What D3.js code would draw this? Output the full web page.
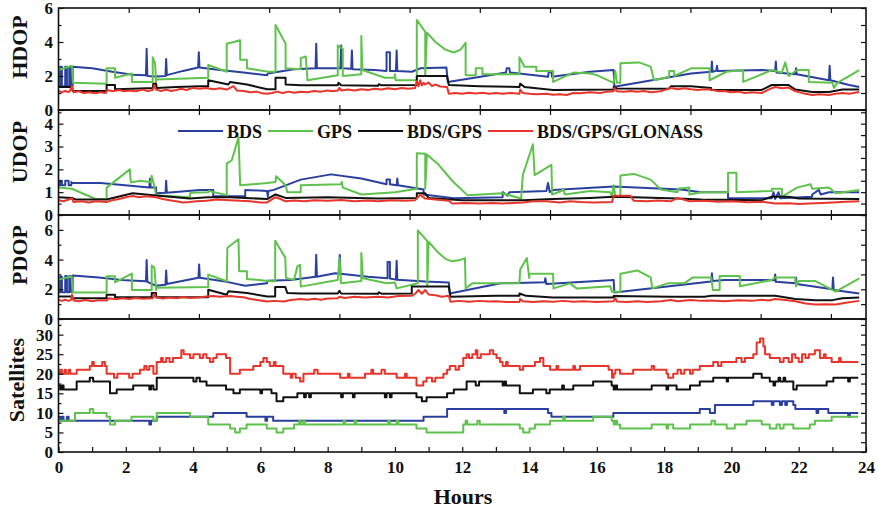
<!DOCTYPE html>
<html>
<head>
<meta charset="utf-8">
<script src="https://cdn.jsdelivr.net/npm/d3@7"></script>
<style>
  body { margin: 0; background: #fff; }
  text { font-family: "Liberation Serif", "Times New Roman", serif; font-weight: bold; }
</style>
</head>
<body>
<script>
// series names and colours
var names = ["BDS", "GPS", "BDS/GPS", "BDS/GPS/GLONASS"];
var colors = ["#2b3f9e", "#5fc24c", "#111111", "#e8352b"];

// x tick labels of the bottom panel
var hourLabels = [0, 2, 4, 6, 8, 10, 12, 14, 16, 18, 20, 22, 24];

// ---- HDOP [hour, value] ----
var hdopBDS = [[0,1.4],[0.05,1.4],[0.05,2.55],[0.1,2.55],[0.1,1.4],[0.2,1.4],[0.2,2.55],[0.25,2.55],[0.25,1.4],[0.32,1.4],[0.32,2.55],[0.38,2.55],[0.38,1.4],[0.42,1.4],[0.42,2.55],
  [1.0,2.45],[1.6,2.25],[2.2,2.08],[2.6,2.05],[2.62,3.6],[2.64,2.0],[2.9,1.97],[3.18,2.0],[3.2,3.0],[3.22,2.05],[3.7,2.3],[4.15,2.5],[4.17,3.4],[4.19,2.5],
  [4.8,2.35],[5.5,2.2],[6.2,2.05],[6.22,2.15],[7.0,2.4],[7.64,2.45],[7.66,3.9],[7.68,2.45],[8.38,2.45],[8.4,3.8],[8.42,2.45],[8.7,2.42],[8.72,3.5],[8.74,2.4],
  [9.4,2.35],[9.75,2.3],[9.75,3.4],[9.85,3.4],[9.85,2.3],[10.03,2.3],[10.05,3.5],[10.07,2.3],[10.5,2.25],[10.75,2.45],[11.53,2.5],[11.57,1.65],[12.45,1.93],
  [13.3,2.2],[13.32,2.45],[13.4,2.45],[13.42,2.2],[14.55,1.95],[14.57,2.25],[14.65,2.25],[14.67,1.95],[15.8,2.25],[16.5,2.35],[16.52,1.37],[18.8,2.15],
  [19.4,2.25],[19.42,2.85],[19.44,2.25],[19.55,2.3],[19.57,2.6],[19.59,2.3],[20.9,2.35],[21.3,2.3],[21.32,2.85],[21.34,2.2],[21.9,2.1],[21.92,2.45],[21.94,2.1],
  [22.5,1.9],[22.9,1.75],[22.92,2.6],[22.94,1.75],[23.5,1.47],[23.8,1.35]];
var hdopGPS = [[0,2.35],[0.4,2.6],[0.43,1.6],[1.43,1.55],[1.43,2.45],[1.68,2.45],[1.68,1.9],[2.18,2.15],[2.18,1.65],[2.8,1.65],[2.8,3.1],[2.87,2.75],[2.9,1.65],
  [2.9,1.8],[4.45,1.9],[4.45,2.65],[5.0,2.25],[5.0,3.9],[5.4,4.1],[5.4,2.95],[5.6,2.95],[5.6,2.45],[6.25,2.25],[6.45,2.25],[6.45,5.0],[6.75,3.9],[6.75,2.45],
  [7.2,2.4],[7.2,3.05],[7.35,3.15],[7.4,1.75],[8.3,2.05],[8.3,3.8],[8.45,3.6],[8.45,2.0],[9.0,2.1],[9.0,4.35],[9.03,2.35],[9.7,1.9],[10.0,1.9],[10.0,2.1],
  [10.02,1.75],[10.65,1.75],[10.65,5.3],[10.9,4.6],[10.9,2.0],[10.95,4.55],[11.2,4.0],[11.5,3.55],[11.75,3.38],[11.95,3.55],[12.1,3.95],[12.1,2.05],[12.4,2.05],
  [12.4,2.45],[12.6,2.45],[12.6,2.1],[13.7,2.1],[13.7,3.1],[13.85,2.55],[14.2,2.55],[14.2,2.3],[14.7,2.3],[14.7,1.65],[15.3,2.2],[15.8,2.15],[16.0,2.05],
  [16.5,1.6],[16.55,2.3],[16.6,1.6],[16.7,1.6],[16.7,2.75],[17.25,2.8],[17.6,2.55],[17.7,1.75],[18.15,1.95],[18.15,2.3],[18.3,2.3],[18.3,2.0],[18.8,2.45],
  [19.35,2.45],[19.35,1.75],[19.85,2.25],[20.35,2.35],[20.35,1.65],[21.2,2.35],[21.5,2.2],[21.6,2.8],[21.7,2.0],[21.95,2.35],[22.3,2.35],[22.3,1.65],[23.0,1.6],
  [23.05,1.3],[23.15,1.6],[23.8,2.35]];
var hdopBG = [[0,1.35],[0.4,1.35],[0.42,1.12],[1.43,1.12],[1.43,1.47],[1.68,1.47],[1.68,1.22],[2.2,1.25],[2.8,1.3],[2.82,1.55],[2.9,1.55],[2.92,1.3],[3.5,1.35],
  [4.2,1.4],[4.45,1.4],[4.45,1.75],[5.05,1.5],[5.1,1.65],[5.6,1.5],[6.2,1.22],[6.45,1.22],[6.45,1.9],[6.75,1.9],[6.75,1.5],[7.2,1.45],[8.3,1.45],[8.32,1.6],
  [8.4,1.45],[9.5,1.42],[9.52,1.52],[9.6,1.45],[10.65,1.47],[10.65,2.0],[11.55,2.0],[11.6,1.47],[12.5,1.4],[13.7,1.35],[13.72,1.55],[13.85,1.35],[14.7,1.18],
  [16.5,1.2],[16.5,1.35],[16.6,1.27],[18.15,1.25],[18.2,1.4],[18.8,1.4],[19.4,1.3],[19.4,1.18],[20.9,1.18],[21.2,1.47],[21.7,1.47],[21.9,1.2],[22.4,1.06],
  [22.9,1.06],[23.3,1.2],[23.8,1.2]];
var hdopBGG = [[0,1.12],[0.1,1.05],[0.2,1.12],[0.3,1.05],[0.35,1.15],[0.4,1.4],[0.45,1.05],[0.6,1.1],[0.75,1.0],[0.9,1.05],[1.1,0.98],[1.25,1.05],[1.4,1.0],
  [1.45,1.18],[1.6,1.1],[1.8,1.18],[1.95,1.1],[2.1,1.15],[2.3,1.1],[2.5,1.2],[2.65,1.12],[2.8,1.18],[2.85,1.45],[2.9,1.2],[3.05,1.12],[3.2,1.2],[3.35,1.12],
  [3.5,1.18],[3.65,1.25],[3.8,1.18],[4.0,1.3],[4.2,1.25],[4.4,1.3],[4.6,1.22],[4.8,1.28],[5.0,1.2],[5.2,1.4],[5.3,1.15],[5.5,1.12],[5.7,1.05],[5.9,1.08],
  [6.05,0.98],[6.2,0.95],[6.35,1.0],[6.5,1.08],[6.65,1.0],[6.85,1.08],[7.0,1.02],[7.2,1.08],[7.4,1.05],[7.6,1.12],[7.8,1.08],[8.0,1.15],[8.15,1.1],[8.3,1.15],
  [8.35,1.3],[8.4,1.15],[8.6,1.2],[8.8,1.15],[9.0,1.22],[9.2,1.18],[9.4,1.25],[9.6,1.2],[9.8,1.28],[10.0,1.22],[10.2,1.3],[10.4,1.25],[10.6,1.3],[10.65,1.7],
  [10.7,1.4],[10.75,1.75],[10.8,1.45],[10.85,1.6],[10.9,1.5],[11.0,1.62],[11.1,1.4],[11.2,1.5],[11.35,1.38],[11.55,1.35],[11.6,0.95],[11.8,1.0],[12.0,0.95],
  [12.2,1.02],[12.4,0.97],[12.6,1.02],[12.8,0.95],[13.0,1.0],[13.2,0.95],[13.45,1.0],[13.7,0.95],[13.72,1.2],[13.8,1.0],[14.0,0.95],[14.2,0.92],[14.5,0.95],
  [14.7,0.9],[14.9,0.92],[15.1,0.88],[15.3,1.0],[15.5,0.98],[15.8,1.05],[16.1,1.0],[16.3,1.08],[16.5,1.1],[16.52,1.3],[16.6,1.1],[16.8,1.08],[17.0,1.12],
  [17.2,1.08],[17.4,1.12],[17.6,1.05],[17.9,1.1],[18.2,1.3],[18.4,1.22],[18.6,1.28],[18.8,1.22],[19.0,1.18],[19.2,1.22],[19.4,1.2],[19.6,1.1],[19.8,1.12],
  [20.0,1.05],[20.2,1.08],[20.4,1.0],[20.6,1.05],[20.9,1.0],[21.1,1.2],[21.3,1.35],[21.5,1.28],[21.7,1.32],[21.85,1.15],[22.0,1.05],[22.2,0.95],[22.4,0.88],
  [22.6,0.92],[22.9,0.88],[23.1,0.95],[23.3,1.0],[23.5,0.95],[23.8,1.06]];

// ---- UDOP ----
var udopBDS = [[0,1.3],[0.05,1.3],[0.05,1.5],[0.1,1.5],[0.1,1.3],[0.2,1.3],[0.2,1.5],[0.3,1.5],[0.3,1.3],[0.38,1.3],[0.38,1.45],[0.4,1.4],[1.25,1.4],[2.7,1.2],
  [2.72,1.6],[2.74,1.2],[2.9,1.2],[2.9,0.95],[3.18,0.97],[3.2,1.5],[3.22,0.97],[4.2,1.1],[4.6,1.1],[4.6,0.82],[5.55,0.82],[5.55,1.1],[6.2,1.05],[6.22,0.8],
  [6.24,1.05],[6.4,1.1],[7.2,1.55],[8.1,1.78],[9.0,1.6],[9.75,1.35],[9.75,1.55],[9.85,1.55],[9.85,1.35],[10.05,1.3],[10.07,1.6],[10.09,1.3],[10.85,1.12],
  [10.85,0.9],[11.75,0.73],[13.2,0.78],[13.2,1.0],[13.35,0.85],[13.4,1.0],[14.5,1.05],[14.55,1.4],[14.6,1.0],[14.7,1.1],[16.5,1.25],[18.5,1.12],[19.1,1.0],
  [19.9,1.0],[19.9,0.73],[21.2,0.73],[21.25,1.0],[21.3,0.7],[21.4,1.0],[21.45,0.73],[22.4,0.8],[22.4,0.9],[22.6,1.1],[22.65,0.9],[22.9,1.0],[23.8,1.0]];
var udopGPS = [[0,1.2],[0.4,1.15],[1.1,0.7],[1.43,0.7],[1.43,1.2],[2.12,2.0],[2.15,1.43],[2.45,1.5],[2.75,1.43],[2.77,1.72],[2.85,1.25],[2.9,0.87],[3.9,0.78],
  [3.92,0.97],[4.45,1.0],[4.47,1.05],[5.0,0.87],[5.0,2.25],[5.15,2.4],[5.35,3.4],[5.4,1.3],[6.2,1.4],[6.45,1.45],[6.47,1.7],[6.75,1.3],[6.8,1.0],[7.2,1.0],
  [7.2,1.3],[8.4,1.35],[8.42,1.45],[8.45,1.2],[9.0,0.9],[10.0,1.0],[10.65,1.15],[10.65,2.7],[10.9,2.68],[10.9,1.15],[10.95,2.65],[11.3,2.2],[11.7,1.5],
  [12.15,0.87],[13.2,0.95],[13.75,0.72],[13.8,1.75],[14.1,3.1],[14.15,1.75],[14.65,2.2],[14.67,0.9],[14.95,1.05],[15.0,1.15],[15.05,0.9],[15.8,1.05],[16.4,1.0],
  [16.45,0.8],[16.5,1.3],[16.55,0.8],[16.7,0.8],[16.7,1.73],[17.1,1.8],[17.6,1.55],[17.9,1.12],[18.4,1.0],[18.4,1.15],[18.75,1.2],[18.75,0.9],[19.1,1.0],
  [19.9,1.0],[19.9,1.85],[20.15,1.85],[20.15,1.0],[21.2,1.05],[21.2,1.15],[21.5,1.15],[21.5,0.8],[21.95,1.2],[22.35,1.35],[22.4,1.15],[22.9,1.2],[23.1,0.95],
  [23.8,1.1]];
var udopBG = [[0,0.78],[0.4,0.75],[0.5,0.68],[1.43,0.68],[2.2,0.95],[2.9,0.85],[3.9,0.72],[4.45,0.78],[5.1,0.78],[6.2,0.7],[6.45,0.9],[6.75,0.75],[8.0,0.78],
  [9.5,0.72],[10.65,0.75],[10.65,0.95],[10.9,0.95],[11.0,0.75],[12.0,0.65],[13.8,0.65],[14.7,0.7],[15.8,0.75],[16.5,0.8],[17.1,0.78],[18.4,0.72],[19.1,0.68],
  [20.9,0.65],[21.2,0.8],[21.7,0.8],[22.0,0.72],[23.8,0.7]];
var udopBGG = [[0,0.65],[0.15,0.6],[0.3,0.68],[0.4,0.72],[0.45,0.57],[0.7,0.6],[0.9,0.55],[1.1,0.6],[1.43,0.57],[1.6,0.65],[1.8,0.7],[2.0,0.78],[2.2,0.83],
  [2.4,0.78],[2.6,0.82],[2.9,0.78],[3.1,0.7],[3.3,0.65],[3.5,0.6],[3.7,0.55],[3.9,0.57],[4.1,0.6],[4.4,0.62],[4.7,0.68],[5.1,0.65],[5.4,0.62],[5.7,0.6],
  [6.0,0.55],[6.2,0.55],[6.45,0.78],[6.6,0.7],[6.75,0.6],[7.0,0.63],[7.3,0.6],[7.6,0.65],[8.0,0.62],[8.4,0.66],[8.8,0.6],[9.2,0.63],[9.5,0.6],[9.9,0.65],
  [10.3,0.62],[10.6,0.65],[10.75,0.88],[10.9,0.72],[11.2,0.68],[11.6,0.62],[11.7,0.5],[12.1,0.53],[12.5,0.5],[12.9,0.53],[13.2,0.5],[13.5,0.53],[13.8,0.55],
  [14.1,0.6],[14.5,0.6],[14.9,0.55],[15.2,0.6],[15.5,0.57],[15.9,0.55],[16.45,0.57],[16.5,0.84],[17.0,0.84],[17.1,0.62],[17.5,0.6],[17.8,0.63],[18.2,0.6],
  [18.4,0.75],[18.75,0.6],[19.2,0.62],[19.6,0.58],[20.0,0.6],[20.5,0.56],[20.9,0.58],[21.3,0.5],[21.7,0.52],[22.0,0.48],[22.3,0.5],[22.7,0.53],[23.0,0.55],
  [23.4,0.58],[23.8,0.6]];

// ---- PDOP ----
var pdopBDS = [[0,1.8],[0.05,1.8],[0.05,2.85],[0.1,2.85],[0.1,1.8],[0.2,1.8],[0.2,2.9],[0.25,2.9],[0.25,1.8],[0.32,1.8],[0.32,2.9],[0.38,2.9],[0.38,1.8],
  [0.42,1.8],[0.42,2.92],[1.2,2.8],[2.0,2.6],[2.6,2.54],[2.62,3.97],[2.64,2.5],[2.9,2.24],[3.18,2.3],[3.2,3.27],[3.22,2.35],[4.16,2.77],[4.18,3.67],[4.2,2.77],
  [5.0,2.5],[5.55,2.24],[6.2,2.4],[6.2,2.58],[6.9,2.63],[7.64,2.85],[7.66,4.33],[7.68,2.85],[8.22,3.08],[8.34,3.05],[8.36,4.3],[8.38,3.05],[9.2,2.85],
  [9.78,2.74],[9.78,3.83],[9.85,3.83],[9.85,2.72],[10.03,2.65],[10.05,3.92],[10.07,2.65],[10.9,2.52],[11.6,2.45],[11.63,1.72],[13.14,2.4],[14.45,2.47],
  [14.47,2.75],[14.5,2.35],[16.5,2.63],[16.52,1.79],[19.4,2.52],[19.42,3.08],[19.44,2.55],[19.8,2.63],[20.9,2.63],[21.28,2.6],[21.3,3.0],[21.32,2.5],
  [21.9,2.4],[21.92,2.8],[21.94,2.35],[23.0,2.0],[23.02,2.8],[23.04,1.95],[23.8,1.72]];
var pdopGPS = [[0,2.65],[0.39,2.88],[0.42,1.79],[1.43,1.79],[1.43,2.88],[1.68,2.88],[1.68,2.47],[2.18,3.06],[2.18,1.95],[2.77,1.95],[2.77,3.6],[2.85,3.45],
  [2.9,1.95],[2.9,2.11],[4.45,2.15],[4.45,2.99],[5.0,2.54],[5.02,4.8],[5.35,5.37],[5.37,3.22],[5.6,3.22],[5.6,2.7],[6.3,2.54],[6.44,2.54],[6.44,5.26],[6.74,4.13],
  [6.76,2.77],[7.0,2.63],[7.1,3.54],[7.18,3.65],[7.2,2.18],[8.3,2.63],[8.35,4.1],[8.4,2.4],[9.0,2.55],[9.0,4.44],[9.05,2.74],[9.75,2.4],[10.0,2.45],[10.05,2.06],
  [10.68,2.4],[10.68,5.96],[10.96,5.24],[10.96,2.2],[11.0,5.2],[11.25,4.55],[11.5,4.05],[11.69,3.88],[11.9,3.95],[12.08,4.1],[12.1,2.06],[12.3,2.4],[13.7,2.4],
  [13.72,3.31],[13.92,4.1],[13.99,2.76],[14.0,3.04],[14.7,3.04],[14.71,2.06],[15.2,2.4],[15.4,2.06],[16.4,2.2],[16.45,1.84],[16.7,1.84],[16.7,3.04],[17.2,3.27],
  [17.6,2.8],[17.65,2.06],[18.1,2.4],[18.6,2.4],[18.85,2.8],[19.4,2.8],[19.45,1.95],[19.65,1.95],[19.65,2.9],[20.25,2.9],[20.25,2.2],[21.2,2.63],[21.3,2.8],
  [21.9,2.8],[21.92,2.2],[22.0,2.55],[22.5,2.55],[23.1,1.84],[23.8,2.74]];
var pdopBG = [[0,1.52],[0.4,1.52],[0.42,1.4],[1.43,1.4],[1.43,1.63],[1.68,1.63],[1.68,1.47],[2.77,1.47],[2.77,1.75],[2.9,1.75],[2.9,1.47],[4.45,1.47],
  [4.45,1.97],[5.0,1.63],[5.05,1.86],[5.6,1.75],[6.2,1.52],[6.44,1.52],[6.44,2.16],[6.74,2.16],[6.8,1.75],[7.2,1.72],[8.3,1.72],[8.35,1.9],[8.4,1.72],
  [9.5,1.7],[9.52,1.8],[9.6,1.7],[10.5,1.72],[10.5,2.18],[11.6,2.18],[11.65,1.5],[13.0,1.56],[13.7,1.56],[13.7,1.72],[13.9,1.56],[14.7,1.45],[16.5,1.45],
  [16.5,1.55],[18.2,1.5],[19.2,1.5],[19.4,1.56],[21.3,1.56],[21.9,1.35],[22.5,1.27],[23.0,1.27],[23.3,1.4],[23.8,1.45]];
var pdopBGG = [[0,1.29],[0.1,1.22],[0.2,1.3],[0.3,1.22],[0.38,1.3],[0.4,1.63],[0.45,1.25],[0.6,1.2],[0.8,1.28],[1.0,1.2],[1.2,1.27],[1.43,1.25],[1.5,1.4],
  [1.7,1.33],[1.9,1.4],[2.1,1.35],[2.3,1.42],[2.5,1.36],[2.8,1.4],[2.85,1.68],[2.9,1.45],[3.1,1.38],[3.3,1.45],[3.5,1.4],[3.7,1.48],[3.9,1.42],[4.2,1.47],
  [4.4,1.52],[4.6,1.55],[4.8,1.5],[5.1,1.55],[5.3,1.5],[5.5,1.47],[5.7,1.35],[5.9,1.28],[6.2,1.18],[6.4,1.22],[6.7,1.18],[6.9,1.28],[7.2,1.34],[7.4,1.3],
  [7.6,1.36],[7.8,1.3],[8.0,1.38],[8.3,1.4],[8.35,1.5],[8.5,1.42],[8.8,1.5],[9.1,1.45],[9.5,1.5],[9.8,1.45],[10.1,1.55],[10.5,1.56],[10.6,1.7],[10.7,1.95],
  [10.8,1.7],[10.9,1.95],[11.0,1.65],[11.2,1.6],[11.4,1.5],[11.6,1.56],[11.65,1.16],[11.9,1.22],[12.2,1.16],[12.5,1.22],[12.8,1.18],[13.0,1.2],[13.3,1.15],
  [13.7,1.15],[13.72,1.35],[13.8,1.2],[14.1,1.15],[14.4,1.2],[14.7,1.16],[15.0,1.22],[15.3,1.16],[15.6,1.2],[16.0,1.15],[16.5,1.2],[16.55,1.4],[16.6,1.18],
  [16.9,1.15],[17.2,1.2],[17.5,1.15],[17.9,1.2],[18.2,1.28],[18.4,1.2],[18.8,1.28],[19.1,1.22],[19.4,1.25],[19.8,1.2],[20.2,1.26],[20.6,1.22],[20.9,1.3],
  [21.1,1.25],[21.3,1.35],[21.6,1.28],[21.9,1.2],[22.2,1.05],[22.5,0.97],[22.8,1.0],[23.1,0.97],[23.4,1.1],[23.8,1.22]];

// ---- Satellites (step, [hour, count]) ----
var satBDS = [[0,9],[0.05,8],[0.1,9],[0.15,8],[0.25,9],[0.3,8],[2.7,7],[2.75,8],[2.92,9],[4.6,10],[5.59,9],[6.15,8],[6.2,9],[6.38,8],[10.85,9],[11.55,11],
  [13.25,10],[13.3,11],[14.55,10],[14.65,9],[16.49,10],[19.06,11],[19.36,10],[19.51,12],[20.65,13],[21.2,12],[21.25,13],[21.44,12],[21.5,13],[21.6,12],
  [21.65,13],[21.84,12],[21.9,11],[22.53,10],[22.58,11],[22.88,10],[23.47,9],[23.52,10],[23.77,10]];
var satGPS = [[0,8],[0.49,10],[0.93,11],[1.03,10],[1.43,9],[1.53,7],[1.68,8],[2.17,9],[2.82,8],[2.92,10],[3.91,9],[4.45,7],[5.1,6],[5.25,5],[5.39,6],[5.59,7],
  [6.19,6],[6.48,5],[6.68,6],[7.0,7],[7.15,8],[7.2,7],[7.28,8],[7.32,7],[8.47,8],[8.52,7],[8.8,8],[8.85,7],[9.8,8],[9.85,7],[10.05,8],[10.1,7],[10.64,6],
  [10.94,5],[12.03,7],[12.1,8],[12.15,7],[12.45,8],[12.52,7],[13.71,6],[13.81,5],[14.0,6],[14.16,7],[14.61,8],[15.0,9],[15.05,8],[15.89,9],[16.44,8],[16.5,7],
  [16.55,8],[16.6,7],[16.69,6],[17.63,7],[18.07,6],[18.12,7],[18.27,6],[18.77,7],[19.41,8],[19.51,7],[19.86,6],[20.1,7],[20.45,8],[20.9,7],[21.14,6],[21.34,7],
  [21.44,6],[21.55,7],[21.84,6],[22.33,7],[22.48,8],[22.98,9],[23.77,9]];
var satBG = [[0,17],[0.05,16],[0.1,17],[0.15,16],[0.54,18],[0.93,19],[1.03,18],[1.53,15],[1.73,16],[2.22,17],[2.7,16],[2.75,17],[2.82,16],[2.92,19],[4.01,18],
  [4.1,19],[4.2,18],[4.4,17],[4.98,16],[5.2,15],[5.39,16],[6.0,15],[6.05,16],[6.33,15],[6.48,13],[6.68,14],[7.1,15],[7.3,14],[7.35,15],[7.45,14],[7.5,15],
  [8.4,14],[8.45,15],[8.75,14],[8.8,15],[9.7,14],[9.75,15],[9.85,14],[9.9,15],[10.64,14],[10.8,13],[10.94,14],[11.55,15],[11.75,16],[12.13,18],[12.4,17],
  [12.5,18],[13.2,17],[13.25,18],[13.3,17],[13.71,15],[14.1,16],[14.5,15],[14.6,16],[14.97,17],[15.02,16],[15.3,17],[15.89,18],[16.44,17],[16.5,16],[16.55,17],
  [16.6,16],[17.63,17],[18.07,16],[18.12,17],[18.37,16],[18.77,17],[19.06,18],[19.46,19],[19.86,18],[19.9,19],[20.65,20],[20.9,19],[21.14,18],[21.25,17],
  [21.3,18],[21.4,19],[21.45,18],[21.55,19],[21.6,18],[21.84,16],[21.94,17],[22.83,18],[23.03,19],[23.47,18],[23.52,19],[23.77,19]];
var satBGG = [[0,20],[0.05,21],[0.1,20],[0.18,21],[0.22,20],[0.3,21],[0.35,20],[0.54,21],[0.93,22],[1.0,23],[1.05,22],[1.3,23],[1.38,22],[1.43,20],[1.65,19],
  [1.75,20],[2.1,19],[2.2,20],[2.42,21],[2.55,22],[2.62,21],[2.7,22],[2.82,20],[2.92,23],[3.05,24],[3.1,23],[3.2,24],[3.3,23],[3.4,24],[3.65,26],[3.72,25],
  [3.91,24],[4.01,25],[4.2,24],[4.3,25],[4.4,24],[4.5,23],[4.6,24],[4.7,25],[4.98,24],[5.1,20],[5.39,21],[5.79,22],[6.0,23],[6.09,24],[6.19,23],[6.28,22],
  [6.4,23],[6.45,22],[6.68,20],[6.9,19],[6.95,20],[7.05,19],[7.18,18],[7.28,20],[7.6,21],[7.7,20],[8.37,19],[8.6,20],[8.65,19],[9.11,20],[9.3,21],[9.35,20],
  [9.6,21],[9.7,20],[10.05,19],[10.3,20],[10.35,19],[10.64,17],[10.84,18],[10.94,19],[11.1,18],[11.2,19],[11.44,20],[11.55,21],[11.63,22],[11.8,21],[11.9,22],
  [12.03,24],[12.13,25],[12.2,24],[12.3,25],[12.4,26],[12.45,24],[12.55,25],[12.82,26],[12.92,25],[13.02,24],[13.12,23],[13.2,22],[13.3,23],[13.35,22],
  [13.71,21],[13.81,22],[14.16,23],[14.31,24],[14.41,22],[14.61,21],[14.8,22],[14.85,21],[15.3,22],[15.35,21],[15.5,22],[16.35,21],[16.45,19],[16.5,20],
  [16.55,21],[16.69,20],[17.08,21],[17.63,22],[17.7,21],[18.07,20],[18.12,19],[18.27,20],[18.4,21],[18.5,20],[18.6,21],[18.77,20],[18.85,21],[19.06,22],
  [19.46,23],[19.6,22],[19.7,23],[20.15,24],[20.3,23],[20.4,24],[20.65,25],[20.75,28],[20.85,29],[20.95,27],[21.0,25],[21.14,24],[21.44,23],[21.55,24],
  [21.7,23],[21.8,25],[21.9,24],[22.0,23],[22.1,25],[22.2,24],[22.3,25],[22.48,26],[22.63,24],[22.75,25],[22.8,24],[22.98,23],[23.2,24],[23.25,23],[23.77,23]];

var W = 878, H = 512;
var x0 = 58.5, x1 = 866;

var svg = d3.select("body").append("svg")
  .attr("width", W).attr("height", H);

var x = d3.scaleLinear().domain([0, 24]).range([x0, x1]);
// the upper panels carry their own (unlabelled) tick spacing
var xTop = d3.scaleLinear().domain([0, 23]).range([x0, x1]);

var panels = [
  {title: "HDOP", tx: 27, ty: 47, domain: [0, 6], top: 8, bottom: 110, major: [0, 2, 4, 6], minor: 1,
   series: [hdopBDS, hdopGPS, hdopBG, hdopBGG], step: false},
  {title: "UDOP", tx: 27, ty: 152, domain: [0, 4.6], top: 110, bottom: 215, major: [0, 1, 2, 3, 4], minor: 0.5,
   series: [udopBDS, udopGPS, udopBG, udopBGG], step: false},
  {title: "PDOP", tx: 27, ty: 255, domain: [0, 7], top: 215, bottom: 319, major: [0, 2, 4, 6], minor: 1,
   series: [pdopBDS, pdopGPS, pdopBG, pdopBGG], step: false},
  {title: "Satellites", tx: 24, ty: 380, domain: [0, 34], top: 319, bottom: 452, major: [0, 5, 10, 15, 20, 25, 30], minor: 2.5,
   series: [satBDS, satGPS, satBG, satBGG], step: true}
];

panels.forEach(function(p, pi) {
  var y = d3.scaleLinear().domain(p.domain).range([p.bottom, p.top]);
  var g = svg.append("g").attr("class", "panel" + pi);

  g.append("clipPath").attr("id", "clip" + pi)
    .append("rect")
    .attr("x", x0).attr("y", p.top)
    .attr("width", x1 - x0).attr("height", p.bottom - p.top);

  var line = d3.line()
    .x(function(d) { return x(d[0]); })
    .y(function(d) { return y(d[1]); })
    .curve(p.step ? d3.curveStepAfter : d3.curveLinear);

  var lines = g.append("g").attr("clip-path", "url(#clip" + pi + ")");
  p.series.forEach(function(s, i) {
    lines.append("path")
      .datum(s)
      .attr("fill", "none")
      .attr("stroke", colors[i])
      .attr("stroke-width", 2)
      .attr("stroke-linejoin", "round")
      .attr("d", line);
  });

  var minors = d3.range(p.domain[0], p.domain[1] + 1e-9, p.minor);

  // left axis: labelled major ticks + small minor ticks, pointing inwards
  var yl = g.append("g").attr("transform", "translate(" + x0 + ",0)")
    .call(d3.axisLeft(y).tickValues(p.major).tickSize(-5).tickPadding(5.5).tickFormat(d3.format("d")));
  yl.select(".domain").remove();
  yl.selectAll("text").style("font-size", "17px").attr("fill", "#111");

  var ym = g.append("g").attr("transform", "translate(" + x0 + ",0)")
    .call(d3.axisLeft(y).tickValues(minors.filter(function(v) { return p.major.indexOf(v) < 0; }))
      .tickSize(-3).tickFormat(""));
  ym.select(".domain").remove();

  var yr = g.append("g").attr("transform", "translate(" + x1 + ",0)")
    .call(d3.axisRight(y).tickValues(minors).tickSize(-5).tickFormat(""));
  yr.select(".domain").remove();

  if (!p.step) {
    var tt = g.append("g").attr("transform", "translate(0," + p.top + ")")
      .call(d3.axisTop(xTop).tickValues(d3.range(2, 23, 2)).tickSize(-5).tickFormat(""));
    tt.select(".domain").remove();
    var tb = g.append("g").attr("transform", "translate(0," + p.bottom + ")")
      .call(d3.axisBottom(xTop).tickValues(d3.range(2, 23, 2)).tickSize(-5).tickFormat(""));
    tb.select(".domain").remove();
  } else {
    var xa = g.append("g").attr("transform", "translate(0," + p.bottom + ")")
      .call(d3.axisBottom(x).tickValues(hourLabels).tickSize(-5).tickPadding(9));
    xa.select(".domain").remove();
    xa.selectAll("text").style("font-size", "17px").attr("fill", "#111");
    var xm = g.append("g").attr("transform", "translate(0," + p.bottom + ")")
      .call(d3.axisBottom(x).tickValues(d3.range(1, 24, 2)).tickSize(-5).tickFormat(""));
    xm.select(".domain").remove();
  }

  g.selectAll(".tick line").attr("stroke", "#111").attr("stroke-width", 1.2);

  g.append("rect")
    .attr("x", x0).attr("y", p.top)
    .attr("width", x1 - x0).attr("height", p.bottom - p.top)
    .attr("fill", "none").attr("stroke", "#111").attr("stroke-width", 1.6);

  svg.append("text")
    .attr("transform", "translate(" + p.tx + "," + p.ty + ") rotate(-90)")
    .attr("text-anchor", "middle")
    .style("font-size", "22px")
    .attr("fill", "#111")
    .text(p.title);
});

svg.append("text")
  .attr("x", 463).attr("y", 504)
  .attr("text-anchor", "middle")
  .style("font-size", "22px")
  .attr("fill", "#111")
  .text("Hours");

// legend inside the UDOP panel
var lx = 178, ly = 131;
var legend = svg.append("g").attr("class", "legend");
names.forEach(function(n, i) {
  legend.append("line")
    .attr("x1", lx).attr("x2", lx + 45)
    .attr("y1", ly).attr("y2", ly)
    .attr("stroke", colors[i]).attr("stroke-width", 2);
  var t = legend.append("text")
    .attr("x", lx + 49).attr("y", ly + 7)
    .style("font-size", "18px")
    .attr("fill", "#111")
    .text(n);
  lx = lx + 49 + t.node().getComputedTextLength() + 6;
});
</script>
</body>
</html>
